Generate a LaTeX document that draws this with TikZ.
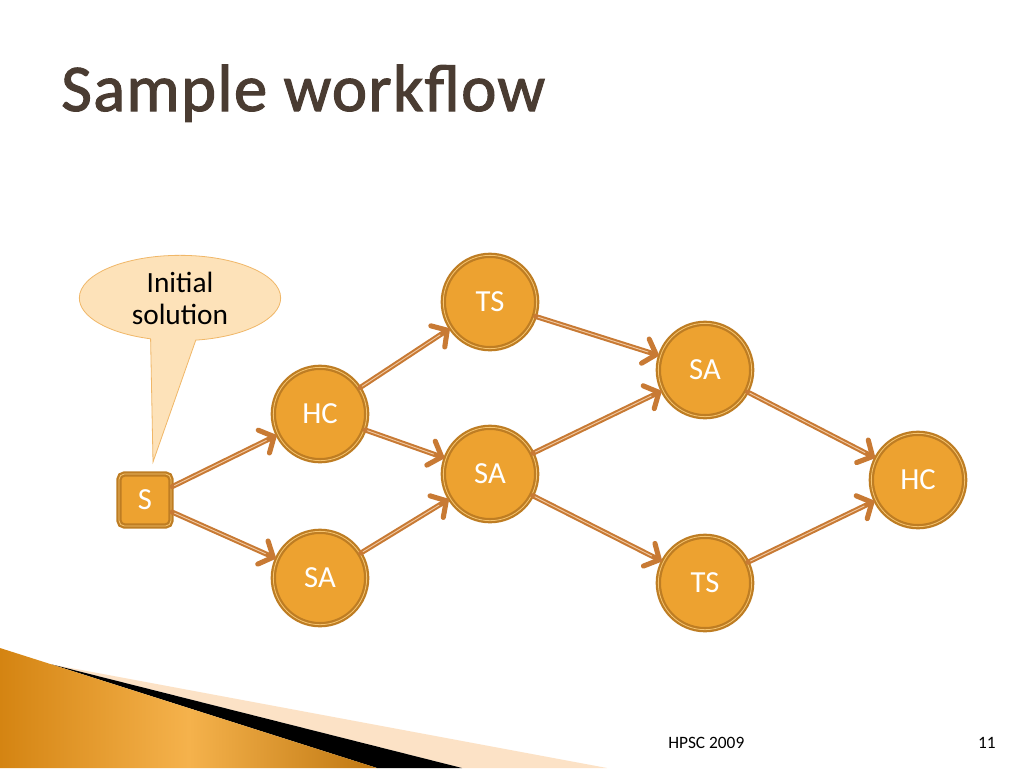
\documentclass[tikz,border=0pt]{standalone}
\usepackage{fontspec}
\setmainfont{Carlito}
\newfontfamily\titlefont{Carlito}[FakeBold=1.6, LetterSpace=2]
\usetikzlibrary{arrows.meta,shapes.callouts,shapes.geometric}

\definecolor{nodeFill}{RGB}{237,162,48}
\definecolor{nodeBorder}{RGB}{190,125,35}
\definecolor{nodeLight}{RGB}{246,196,112}
\definecolor{flowColor}{RGB}{200,122,52}
\definecolor{flowLight}{RGB}{240,200,160}
\definecolor{bubbleFill}{RGB}{253,226,185}
\definecolor{bubbleBorder}{RGB}{240,183,104}
\definecolor{titleColor}{RGB}{74,60,50}
\definecolor{bandDark}{RGB}{212,132,18}
\definecolor{bandLight}{RGB}{245,178,76}
\definecolor{bandPeach}{RGB}{252,226,198}

\tikzset{
  step node/.style={circle, fill=nodeFill, draw=nodeBorder, double=nodeLight,
    double distance=0.6pt, line width=1.7pt, minimum size=70pt, inner sep=0pt,
    text=white, font=\fontsize{23}{27}\selectfont},
  start node/.style={rectangle, rounded corners=4pt, fill=nodeFill, draw=nodeBorder,
    double=nodeLight, double distance=0.6pt, line width=1.7pt, minimum size=39pt,
    inner sep=0pt, text=white, font=\fontsize{23}{27}\selectfont},
  flow/.style={draw=flowColor, line width=3.8pt, line cap=round, line join=round,
    -{Straight Barb[length=8.5pt, width=19pt, line cap=round]},
    postaction={draw=flowLight, line width=0.7pt, -, shorten >=9pt, shorten <=2pt}},
}

\begin{document}
\begin{tikzpicture}[x=0.75pt, y=-0.75pt]

% Page frame (pixel grid of the slide)
\useasboundingbox (0,0) rectangle (1024,768);
\fill[white] (0,0) rectangle (1024,768);

% Bottom left band
\fill[bandPeach] (52,664.5) -- (607,768) -- (462,768) -- cycle;
\fill[black] (52,664.5) -- (462,768) -- (377,768) -- cycle;
\shade[left color=bandDark, right color=bandDark!90!black, middle color=bandLight]
  (0,648) -- (377,768) -- (0,768) -- cycle;

% Title
\node[anchor=base west, text=titleColor, font=\titlefont\fontsize{50}{58}\selectfont, inner sep=0pt]
  (title) at (61,111) {Sample workflow};

% Workflow nodes
\node[start node] (start) at (145,500) {S};
\node[step node] (hcA) at (320,414) {HC};
\node[step node] (saA) at (320,578) {SA};
\node[step node] (tsA) at (490,302) {TS};
\node[step node] (saB) at (490,474) {SA};
\node[step node] (saC) at (705,370) {SA};
\node[step node] (tsB) at (705,583) {TS};
\node[step node] (hcB) at (918,480) {HC};

% Callout
\coordinate (tip) at (153,462);
\node[ellipse callout, callout absolute pointer=(tip), callout pointer arc=26,
  fill=bubbleFill, draw=bubbleBorder, line width=0.6pt, minimum width=151pt,
  minimum height=64pt, inner sep=0pt, align=center,
  font=\fontsize{22}{24}\selectfont] (bubble) at (180,298) {Initial\\solution};

% Connectors
\foreach \a/\b in {start/hcA, start/saA, hcA/tsA, hcA/saB, saA/saB,
                   tsA/saC, saB/saC, saB/tsB, saC/hcB, tsB/hcB} {
    \draw[flow] (\a) -- (\b);
}

% Footer
\node[anchor=west, font=\fontsize{13}{15}\selectfont, inner sep=0pt] (footer) at (668,743) {HPSC 2009};
\node[anchor=east, font=\fontsize{13}{15}\selectfont, inner sep=0pt] (pageNo) at (996,743) {11};

\end{tikzpicture}
\end{document}
